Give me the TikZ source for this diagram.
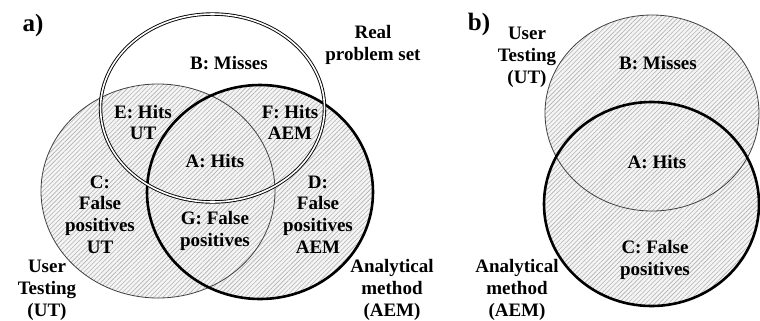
\documentclass[tikz,border=0pt]{standalone}
\usepackage{fontspec}
\setmainfont{Liberation Serif}
\usetikzlibrary{patterns.meta}
\begin{document}
\begin{tikzpicture}[x=1bp,y=-1bp,
 lbl/.style={font=\bfseries\fontsize{19bp}{21.8bp}\selectfont, align=center, inner sep=0pt},
 tag/.style={font=\bfseries\fontsize{25bp}{28bp}\selectfont, inner sep=0pt},
 hatch/.style={fill=gray!8, postaction={pattern={Lines[angle=45,distance=3.2bp,line width=0.6bp]}, pattern color=gray!60}},
 thinline/.style={draw=black!75, line width=0.8bp},
 thickline/.style={draw=black, line width=2.6bp},
 dblline/.style={draw=black, double=white, double distance=1.6bp, line width=0.9bp}]
\useasboundingbox (0,0) rectangle (760,320);
% ---------- panel a ----------
\path[hatch] (158,191) ellipse [x radius=117bp, y radius=107bp];
\path[hatch] (260,192) ellipse [x radius=113bp, y radius=107bp];
\draw[thinline] (158,191) ellipse [x radius=117bp, y radius=107bp];
\draw[thickline] (260,192) ellipse [x radius=113bp, y radius=107bp];
\draw[dblline] (212.5,108) ellipse [x radius=112bp, y radius=94bp];
\node[tag] (ta) at (33,25) {a)};
\node[lbl] (real) at (373,45) {Real\\problem set};
\node[lbl] (bA) at (229,63) {B: Misses};
\node[lbl] (eA) at (143,122.5) {E: Hits\\UT};
\node[lbl] (fA) at (290,122.5) {F: Hits\\AEM};
\node[lbl] (aA) at (215,161) {A: Hits};
\node[lbl] (cA) at (100,214.5) {C:\\False\\positives\\UT};
\node[lbl] (gA) at (215,231) {G: False\\positives};
\node[lbl] (dA) at (318,214.5) {D:\\False\\positives\\AEM};
\node[lbl] (utA) at (47,290) {User\\Testing\\(UT)};
\node[lbl] (aemA) at (392,290) {Analytical\\method\\(AEM)};
% ---------- panel b ----------
\path[hatch] (652,113) ellipse [x radius=107bp, y radius=98bp];
\path[hatch] (651.5,204) ellipse [x radius=107.5bp, y radius=102bp];
\draw[thinline] (652,113) ellipse [x radius=107bp, y radius=98bp];
\draw[thickline] (651.5,204) ellipse [x radius=107.5bp, y radius=102bp];
\node[tag] (tb) at (479,24) {b)};
\node[lbl] (utB) at (527,57) {User\\Testing\\(UT)};
\node[lbl] (bB) at (658,63) {B: Misses};
\node[lbl] (aB) at (657,162) {A: Hits};
\node[lbl] (cB) at (655,260) {C: False\\positives};
\node[lbl] (aemB) at (517,290) {Analytical\\method\\(AEM)};
\end{tikzpicture}
\end{document}
